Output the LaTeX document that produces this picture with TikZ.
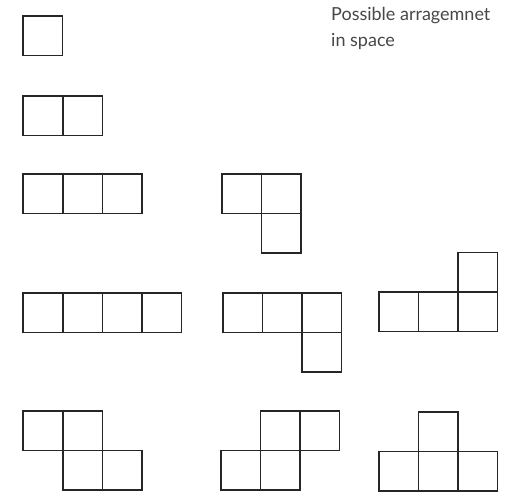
\documentclass[tikz,border=0pt]{standalone}
\usepackage{fontspec}
\setmainfont{Lato}
\usepackage{tikz}
\usetikzlibrary{positioning}
\newcommand{\unitcell}[2]{%
  \draw[cellline] (#1,#2) rectangle ++(39.5,39.5);}

\begin{document}
\begin{tikzpicture}[x=1pt, y=-1pt, cellline/.style={line width=1.3pt, black!85}]
  \useasboundingbox (0,0) rectangle (507,493);
  % one to four cells
  \foreach \px/\py in {23/16, 23/96, 63/96, 23/174, 63/174, 102.5/174}{
    \unitcell{\px}{\py}}
  \foreach \px/\py in {222/174, 261.5/174, 261.5/213.5}{
    \unitcell{\px}{\py}}
  % four in a row and its bends
  \foreach \px/\py in {23/293, 63/293, 102.5/293, 142/293}{
    \unitcell{\px}{\py}}
  \foreach \px/\py in {223/293, 262.5/293, 302/293, 302/332.5}{
    \unitcell{\px}{\py}}
  \foreach \px/\py in {379/292, 418.5/292, 458/292, 458/252.5}{
    \unitcell{\px}{\py}}
  % steps and tee
  \foreach \px/\py in {23/411, 63/411, 63/450.5, 102.5/450.5}{
    \unitcell{\px}{\py}}
  \foreach \px/\py in {260.5/411, 300/411, 221/450.5, 260.5/450.5}{
    \unitcell{\px}{\py}}
  \foreach \px/\py in {418.5/412, 379/451.5, 418.5/451.5, 458/451.5}{
    \unitcell{\px}{\py}}
  \node[anchor=north west, align=left, inner sep=0pt, text=black!72,
        font=\fontsize{18}{26}\selectfont] (caption) at (331,7)
    {Possible arragemnet\\in space};
\end{tikzpicture}
\end{document}
